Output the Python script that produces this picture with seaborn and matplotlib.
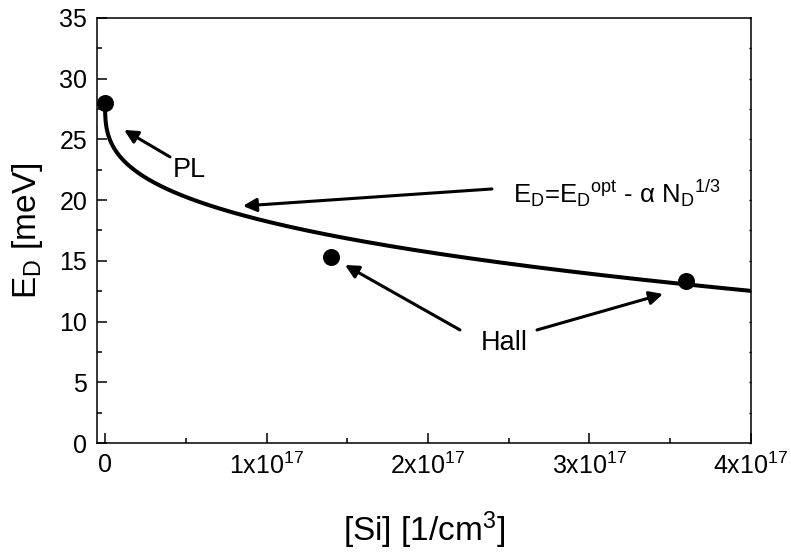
import numpy as np
import pandas as pd
import matplotlib
matplotlib.use("Agg")
import matplotlib.pyplot as plt
import seaborn as sns

# Measured donor ionisation energies
si_conc = [0.0, 1.4e17, 3.6e17]          # [Si] in 1/cm^3
e_d = [28.0, 15.3, 13.3]                 # E_D in meV
point_labels = ["PL", "Hall", "Hall"]

# Fit model E_D = E_D^opt - alpha * N_D^(1/3)
e_opt = 28.0        # meV
alpha = 2.1e-5      # meV cm

x_ticks = [0, 1e17, 2e17, 3e17, 4e17]
x_tick_labels = ["0", "1x10$^{17}$", "2x10$^{17}$", "3x10$^{17}$", "4x10$^{17}$"]
y_ticks = [0, 5, 10, 15, 20, 25, 30, 35]
y_minor = [2.5, 7.5, 12.5, 17.5, 22.5, 27.5, 32.5]

sns.set_theme(style="ticks")
plt.rcParams["font.family"] = ["Liberation Sans", "DejaVu Sans"]
plt.rcParams["mathtext.fontset"] = "custom"
plt.rcParams["mathtext.rm"] = "Liberation Sans"
plt.rcParams["mathtext.it"] = "Liberation Sans"
plt.rcParams["mathtext.bf"] = "Liberation Sans:bold"
plt.rcParams["text.color"] = "black"
plt.rcParams["axes.labelcolor"] = "black"
plt.rcParams["xtick.color"] = "black"
plt.rcParams["ytick.color"] = "black"
plt.rcParams["axes.edgecolor"] = "black"

fig = plt.figure(figsize=(7.91, 5.55), dpi=100)
ax = fig.add_axes([0.1226, 0.2018, 0.8268, 0.7658])

n_fit = np.linspace(0, 4e17, 4000)
fit = pd.DataFrame({"N": n_fit, "E": e_opt - alpha * np.cbrt(n_fit)})
sns.lineplot(data=fit, x="N", y="E", ax=ax, color="black", lw=2.9,
             estimator=None, sort=False)

pts = pd.DataFrame({"N": si_conc, "E": e_d, "src": point_labels})
sns.scatterplot(data=pts, x="N", y="E", ax=ax, color="black", s=150,
                edgecolor="black", linewidth=0, zorder=5, clip_on=False)

ax.set_xlim(-0.05e17, 4e17)
ax.set_ylim(0, 35)
ax.set_xticks(x_ticks)
ax.set_xticklabels(x_tick_labels)
ax.set_xticks([0.5e17, 1.5e17, 2.5e17, 3.5e17], minor=True)
ax.set_yticks(y_ticks)
ax.set_yticks(y_minor, minor=True)

for side in ax.spines.values():
    side.set_linewidth(1.1)
    side.set_color("black")
    side.set_visible(True)

ax.tick_params(axis="both", which="major", direction="in", length=7,
               width=1.1, labelsize=18, pad=7, colors="black")
ax.tick_params(axis="both", which="minor", direction="in", length=3.6,
               width=1.1)
ax.tick_params(top=False, right=False)

# tiny ticks on the right spine
sec_y = ax.secondary_yaxis("right")
sec_y.set_yticks(y_ticks + y_minor)
sec_y.tick_params(direction="in", length=1.5, width=1.0, labelright=False)
sec_y.spines["right"].set_visible(False)

ax.set_xlabel("[Si] [1/cm$^3$]", fontsize=24, labelpad=22)
ax.set_ylabel("E$_D$ [meV]", fontsize=24, labelpad=10)

arrow = dict(arrowstyle="-|>", color="black", lw=2.2, mutation_scale=20,
             shrinkA=0, shrinkB=0)
ax.annotate("", xy=(0.118e17, 25.78), xytext=(0.402e17, 23.56), arrowprops=arrow)
ax.annotate("", xy=(0.854e17, 19.52), xytext=(2.396e17, 20.92), arrowprops=arrow)
ax.annotate("", xy=(1.486e17, 14.66), xytext=(2.198e17, 9.31), arrowprops=arrow)
ax.annotate("", xy=(3.455e17, 12.27), xytext=(2.675e17, 9.31), arrowprops=arrow)

ax.text(0.42e17, 21.91, "PL", fontsize=19.5, ha="left", va="baseline")
ax.text(2.326e17, 7.66, "Hall", fontsize=19.5, ha="left", va="baseline")
ax.text(2.526e17, 19.77,
        "E$_D$=E$_D$$^{opt}$ - \u03b1 N$_D$$^{1/3}$",
        fontsize=18.5, ha="left", va="baseline")

fig.savefig("out.png", dpi=100)
